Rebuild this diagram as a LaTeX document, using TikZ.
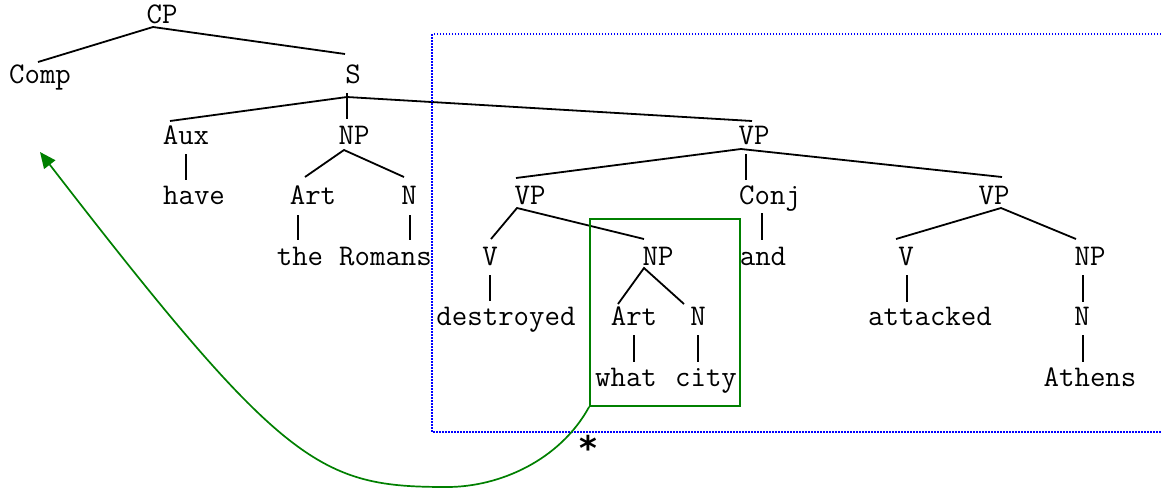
\documentclass[tikz,border=0pt]{standalone}
\usepackage{fontspec}
\newfontfamily\starfont{DejaVu Sans}
\usetikzlibrary{arrows.meta}
\definecolor{boxgreen}{RGB}{0,128,0}
\definecolor{dotblue}{RGB}{0,0,255}
\begin{document}
\begin{tikzpicture}[x=0.5pt,y=-0.5pt,
  lbl/.style={anchor=base,inner sep=0pt,font=\ttfamily\fontsize{15}{18}\selectfont},
  edge/.style={line width=0.9pt,black},
  movebox/.style={draw=boxgreen,line width=0.9pt},
  moveline/.style={draw=boxgreen,line width=0.85pt,-{Triangle[length=8pt,width=7pt]}},
  scopebox/.style={draw=dotblue,line width=0.85pt,dash pattern=on 0.75pt off 0.75pt}
]
\useasboundingbox (0,0) rectangle (1161,489);
\fill[white] (0,0) rectangle (1161,489);

% labels
\node[lbl] (CP) at (162,23) {CP};
\node[lbl] (Comp) at (40,83.5) {Comp};
\node[lbl] (S) at (353,83.5) {S};
\node[lbl] (Aux) at (186,144) {Aux};
\node[lbl] (NPa) at (354,144) {NP};
\node[lbl] (VPm) at (754,144) {VP};
\node[lbl] (have) at (194,204.5) {have};
\node[lbl] (Arta) at (313,204.5) {Art};
\node[lbl] (Na) at (409,204.5) {N};
\node[lbl] (VPl) at (530,204.5) {VP};
\node[lbl] (Conj) at (770,204.5) {Conj};
\node[lbl] (VPr) at (994,204.5) {VP};
\node[lbl] (the) at (300,265) {the};
\node[lbl] (Romans) at (385.5,265) {Romans};
\node[lbl] (Va) at (490,265) {V};
\node[lbl] (NPb) at (658,265) {NP};
\node[lbl] (and) at (763,265) {and};
\node[lbl] (Vb) at (906,265) {V};
\node[lbl] (NPc) at (1090,265) {NP};
\node[lbl] (destroyed) at (506,325.5) {destroyed};
\node[lbl] (Artb) at (634,325.5) {Art};
\node[lbl] (Nb) at (698,325.5) {N};
\node[lbl] (attacked) at (930,325.5) {attacked};
\node[lbl] (Nc) at (1082,325.5) {N};
\node[lbl] (what) at (626,386) {what};
\node[lbl] (city) at (706,386) {city};
\node[lbl] (Athens) at (1090,386) {Athens};

% edge end points
\coordinate (CP-b) at (153,27);
\coordinate (Comp-t) at (38,62);
\coordinate (S-t) at (345,54);
\coordinate (S-b) at (347,97);
\coordinate (S-v) at (347,93);
\coordinate (Aux-t) at (170,121);
\coordinate (NPa-t) at (347,119);
\coordinate (VPm-t) at (752,121);
\coordinate (Aux-b) at (186,154);
\coordinate (have-t) at (186,180);
\coordinate (NPa-b) at (344,150);
\coordinate (Arta-t) at (305,177);
\coordinate (Na-t) at (404,177);
\coordinate (Arta-b) at (298,215);
\coordinate (the-t) at (298,240);
\coordinate (Na-b) at (410,215);
\coordinate (Romans-t) at (410,240);
\coordinate (VPm-b) at (741,149);
\coordinate (VPm-v) at (746,154);
\coordinate (VPl-t) at (516,178);
\coordinate (Conj-t) at (746,180);
\coordinate (VPr-t) at (1002,177);
\coordinate (VPl-b) at (517,208);
\coordinate (Va-t) at (491,239);
\coordinate (NPb-t) at (644,239);
\coordinate (Va-b) at (490,275);
\coordinate (destroyed-t) at (490,301);
\coordinate (NPb-b) at (644,268);
\coordinate (Artb-t) at (618,304);
\coordinate (Nb-t) at (684,304);
\coordinate (Artb-b) at (634,335);
\coordinate (what-t) at (634,362);
\coordinate (Nb-b) at (698,335);
\coordinate (city-t) at (698,362);
\coordinate (Conj-b) at (762,213);
\coordinate (and-t) at (762,240);
\coordinate (VPr-b) at (1001,208);
\coordinate (Vb-t) at (896,239);
\coordinate (NPc-t) at (1076,239);
\coordinate (Vb-b) at (907,275);
\coordinate (attacked-t) at (907,302);
\coordinate (NPc-b) at (1083,275);
\coordinate (Nc-t) at (1083,302);
\coordinate (Nc-b) at (1083,335);
\coordinate (Athens-t) at (1083,362);

% edges
\draw[edge] (Comp-t) -- (CP-b) -- (S-t);
\draw[edge] (S-v) -- (NPa-t);
\draw[edge] (Aux-t) -- (S-b) -- (VPm-t);
\draw[edge] (Aux-b) -- (have-t);
\draw[edge] (Arta-t) -- (NPa-b) -- (Na-t);
\draw[edge] (Arta-b) -- (the-t);
\draw[edge] (Na-b) -- (Romans-t);
\draw[edge] (VPl-t) -- (VPm-b) -- (VPr-t);
\draw[edge] (VPm-v) -- (Conj-t);
\draw[edge] (Va-t) -- (VPl-b) -- (NPb-t);
\draw[edge] (Va-b) -- (destroyed-t);
\draw[edge] (Artb-t) -- (NPb-b) -- (Nb-t);
\draw[edge] (Artb-b) -- (what-t);
\draw[edge] (Nb-b) -- (city-t);
\draw[edge] (Conj-b) -- (and-t);
\draw[edge] (Vb-t) -- (VPr-b) -- (NPc-t);
\draw[edge] (Vb-b) -- (attacked-t);
\draw[edge] (NPc-b) -- (Nc-t);
\draw[edge] (Nc-b) -- (Athens-t);

% dotted scope region (open to the right)
\coordinate (scopeTR) at (1161,34);
\coordinate (scopeTL) at (432,34);
\coordinate (scopeBL) at (432,432);
\coordinate (scopeBR) at (1161,432);
\draw[scopebox] (scopeTR) -- (scopeTL) -- (scopeBL) -- (scopeBR);

% moved constituent box
\node[movebox,inner sep=0pt,minimum width=75pt,minimum height=93.5pt] (wh) at (665,312.5) {};

% movement arrow
\coordinate (bottom) at (447,487);
\coordinate (target) at (40,152);
\draw[moveline] (wh.south west) .. controls (560,460) and (500,487) .. (bottom)
  .. controls (320,487) and (284,468) .. (target);

\node[inner sep=0pt,font=\starfont\bfseries\fontsize{17}{20}\selectfont] (star) at (588,448) {*};
\end{tikzpicture}
\end{document}
